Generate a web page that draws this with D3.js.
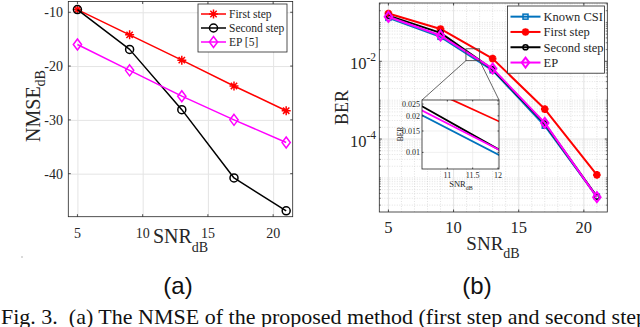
<!DOCTYPE html>
<html>
<head>
<meta charset="utf-8">
<script src="https://cdn.jsdelivr.net/npm/d3@7"></script>
<style>
body { margin: 0; background: #fff; }
text { font-family: "Liberation Serif", "Times New Roman", serif; fill: #262626; }
</style>
</head>
<body>
<svg id="fig" width="640" height="327"></svg>
<script>
// SNR points (dB)
const snr = [5, 9, 13, 17, 21];

// (a) NMSE in dB
const nmseFirst = [-9.5, -14.2, -18.9, -23.7, -28.3];
const nmseSecond = [-9.5, -16.9, -28.1, -40.8, -46.9];
const nmseEP = [-16.0, -20.8, -25.6, -30.0, -34.2];

// (b) BER
const berKnown = [0.131, 0.0426, 0.00586, 0.00022, 3.3e-6];
const berFirst = [0.17, 0.068, 0.0117, 5.9e-4, 1.2e-5];
const berSecond = [0.15, 0.054, 0.0062, 2.5e-4, 3.3e-6];
const berEP = [0.14, 0.046, 0.0065, 2.6e-4, 3.2e-6];

// tick values
const snrTicks = [5, 10, 15, 20];
const nmseTicks = [-40, -30, -20, -10];
const berTicks = [1e-4, 1e-2];
const insetXTicks = [11, 11.5, 12];
const insetYTicks = [0.01, 0.015, 0.02, 0.025];
// region marked on the BER plot: [x0, x1, y0, y1]
const zoomRegion = [10.95, 12, 0.0104, 0.021];

const svg = d3.select("#fig");
const axisColor = "#262626";

function marker(sel, type, r) {
    if (type === "circle") {
        sel.append("circle").attr("r", r);
    } else if (type === "diamond") {
        sel.append("path").attr("d", `M0,${-r}L${r * 0.75},0L0,${r}L${-r * 0.75},0Z`);
    } else if (type === "square") {
        sel.append("rect").attr("x", -r).attr("y", -r).attr("width", 2 * r).attr("height", 2 * r);
    } else if (type === "star") {
        var d = r * 0.707;
        sel.append("path").attr("d", `M${-r},0H${r}M0,${-r}V${r}M${-d},${-d}L${d},${d}M${-d},${d}L${d},${-d}`);
    }
}

function drawSeries(g, series, x, y, lw) {
    series.forEach(s => {
        var pts = snr.map((v, i) => [v, s.values[i]]);
        g.append("path")
            .attr("d", d3.line().x(d => x(d[0])).y(d => y(d[1]))(pts))
            .attr("fill", "none").attr("stroke", s.color).attr("stroke-width", lw)
            .attr("stroke-linejoin", "round");
        if (!s.marker) return;
        pts.forEach(p => {
            var m = g.append("g")
                .attr("transform", `translate(${x(p[0])},${y(p[1])})`)
                .attr("fill", s.fill || "none").attr("stroke", s.color).attr("stroke-width", s.mw || lw);
            marker(m, s.marker, s.r);
        });
    });
}

function drawLegend(g, series, x0, y0, w, rowH, lineW, fs, lw) {
    g.append("rect").attr("x", x0).attr("y", y0).attr("width", w).attr("height", rowH * series.length + 6)
        .attr("fill", "#fff").attr("stroke", axisColor).attr("stroke-width", 0.8);
    series.forEach((s, i) => {
        var cy = y0 + 3 + rowH * (i + 0.5);
        g.append("line").attr("x1", x0 + 3).attr("x2", x0 + 3 + lineW).attr("y1", cy).attr("y2", cy)
            .attr("stroke", s.color).attr("stroke-width", lw);
        var m = g.append("g").attr("transform", `translate(${x0 + 3 + lineW / 2},${cy})`)
            .attr("fill", s.fill || "none").attr("stroke", s.color).attr("stroke-width", s.mw || lw);
        marker(m, s.marker, s.r);
        g.append("text").attr("x", x0 + 6 + lineW).attr("y", cy).attr("dy", "0.35em")
            .attr("font-size", fs).text(s.name);
    });
}

function ticks(g, x, y, xt, yt, len) {
    var [x0, x1] = x.range(), [y0, y1] = y.range();
    xt.forEach(v => {
        g.append("line").attr("x1", x(v)).attr("x2", x(v)).attr("y1", y0).attr("y2", y0 - len);
        g.append("line").attr("x1", x(v)).attr("x2", x(v)).attr("y1", y1).attr("y2", y1 + len);
    });
    yt.forEach(v => {
        g.append("line").attr("y1", y(v)).attr("y2", y(v)).attr("x1", x0).attr("x2", x0 + len);
        g.append("line").attr("y1", y(v)).attr("y2", y(v)).attr("x1", x1).attr("x2", x1 - len);
    });
    g.attr("stroke", axisColor).attr("stroke-width", 0.8);
}

// ---------------- (a) NMSE ----------------
const xA = d3.scaleLinear().domain([4.3, 21.5]).range([68.3, 292.7]);
const yA = d3.scaleLinear().domain([-48, -8]).range([216.7, 1.5]);
const gA = svg.append("g");

gA.append("g").attr("transform", `translate(0,${yA.range()[0]})`)
    .call(d3.axisBottom(xA).tickValues(snrTicks).tickSize(-(yA.range()[0] - yA.range()[1])).tickFormat(""))
    .call(g => g.select(".domain").remove())
    .call(g => g.selectAll("line").attr("stroke", "#e4e4e4"));
gA.append("g").attr("transform", `translate(${xA.range()[0]},0)`)
    .call(d3.axisLeft(yA).tickValues(nmseTicks).tickSize(-(xA.range()[1] - xA.range()[0])).tickFormat(""))
    .call(g => g.select(".domain").remove())
    .call(g => g.selectAll("line").attr("stroke", "#e4e4e4"));

gA.append("rect").attr("x", xA.range()[0]).attr("y", yA.range()[1])
    .attr("width", xA.range()[1] - xA.range()[0]).attr("height", yA.range()[0] - yA.range()[1])
    .attr("fill", "none").attr("stroke", axisColor).attr("stroke-width", 0.8);
ticks(gA.append("g"), xA, yA, snrTicks, nmseTicks, 2.5);

gA.append("g").selectAll("text").data(snrTicks).join("text")
    .attr("x", d => xA(d)).attr("y", 238).attr("text-anchor", "middle").attr("font-size", 14).text(d => d);
gA.append("g").selectAll("text").data(nmseTicks).join("text")
    .attr("x", 63).attr("y", d => yA(d)).attr("dy", "0.35em").attr("text-anchor", "end")
    .attr("font-size", 14).text(d => String(d));

const seriesA = [
    {name: "First step", values: nmseFirst, color: "#ff0000", marker: "star", r: 4.5},
    {name: "Second step", values: nmseSecond, color: "#000000", marker: "circle", r: 4},
    {name: "EP [5]", values: nmseEP, color: "#ff00ff", marker: "diamond", r: 5.5}
];
drawSeries(gA.append("g"), seriesA, xA, yA, 1.5);
drawLegend(gA.append("g"), seriesA, 198, 4, 89, 14, 25, 11.5, 1.5);

var labA = gA.append("text").attr("transform", "translate(39.5,106) rotate(-90)")
    .attr("text-anchor", "middle").attr("font-size", 20);
labA.append("tspan").text("NMSE");
labA.append("tspan").attr("font-size", 14).attr("dy", 5).text("dB");
var xlabA = gA.append("text").attr("x", 180.5).attr("y", 243).attr("text-anchor", "middle").attr("font-size", 20);
xlabA.append("tspan").text("SNR");
xlabA.append("tspan").attr("font-size", 14).attr("dy", 9).text("dB");

// ---------------- (b) BER ----------------
const xB = d3.scaleLinear().domain([4.3, 21.8]).range([379.3, 607.3]);
const yB = d3.scaleLog().domain([1.33e-6, 0.316]).range([212, 3]);
const gB = svg.append("g");
const [bx0, bx1] = xB.range(), [by0, by1] = yB.range();

const minorY = yB.ticks().filter(v => v >= yB.domain()[0] && v <= yB.domain()[1] && !berTicks.some(t => Math.abs(t - v) / t < 1e-6));
const minorX = xB.ticks(20).filter(v => !snrTicks.includes(v));
const gridB = gB.append("g");
minorY.forEach(v => gridB.append("line").attr("x1", bx0).attr("x2", bx1).attr("y1", yB(v)).attr("y2", yB(v))
    .attr("stroke", "#cfcfcf").attr("stroke-width", 0.6).attr("stroke-dasharray", "1,1.5"));
minorX.forEach(v => gridB.append("line").attr("y1", by0).attr("y2", by1).attr("x1", xB(v)).attr("x2", xB(v))
    .attr("stroke", "#cfcfcf").attr("stroke-width", 0.6).attr("stroke-dasharray", "1,1.5"));
berTicks.forEach(v => gridB.append("line").attr("x1", bx0).attr("x2", bx1).attr("y1", yB(v)).attr("y2", yB(v))
    .attr("stroke", "#dcdcdc").attr("stroke-width", 0.8));
snrTicks.forEach(v => gridB.append("line").attr("y1", by0).attr("y2", by1).attr("x1", xB(v)).attr("x2", xB(v))
    .attr("stroke", "#dcdcdc").attr("stroke-width", 0.8));

gB.append("rect").attr("x", bx0).attr("y", by1).attr("width", bx1 - bx0).attr("height", by0 - by1)
    .attr("fill", "none").attr("stroke", axisColor).attr("stroke-width", 0.8);
ticks(gB.append("g"), xB, yB, snrTicks, berTicks, 2.5);
const mt = gB.append("g").attr("stroke", axisColor).attr("stroke-width", 0.6);
minorY.forEach(v => {
    mt.append("line").attr("x1", bx0).attr("x2", bx0 + 1.5).attr("y1", yB(v)).attr("y2", yB(v));
    mt.append("line").attr("x1", bx1).attr("x2", bx1 - 1.5).attr("y1", yB(v)).attr("y2", yB(v));
});

gB.append("g").selectAll("text").data(snrTicks).join("text")
    .attr("x", d => xB(d)).attr("y", 233).attr("text-anchor", "middle").attr("font-size", 16.5).text(d => d);
var yl = gB.append("g").selectAll("text").data(berTicks).join("text")
    .attr("x", 376).attr("y", d => yB(d) + 8).attr("text-anchor", "end").attr("font-size", 16.5);
yl.append("tspan").text("10");
yl.append("tspan").attr("font-size", 11.5).attr("dy", -8).text(d => String(Math.round(Math.log10(d))));

const seriesB = [
    {name: "Known CSI", values: berKnown, color: "#0072bd", marker: "square", r: 2.5, mw: 1.5},
    {name: "First step", values: berFirst, color: "#ff0000", marker: "star", r: 3.8, mw: 2.4},
    {name: "Second step", values: berSecond, color: "#000000", marker: "circle", r: 2.6, mw: 1.5},
    {name: "EP", values: berEP, color: "#ff00ff", marker: "diamond", r: 5, mw: 2}
];
drawSeries(gB.append("g"), seriesB, xB, yB, 2);

// zoom rectangle and connectors
const xI = d3.scaleLinear().domain([10.5, 12.02]).range([422, 499]);
const yI = d3.scaleLog().domain([0.0073, 0.027]).range([169, 100]);
const [ix0, ix1] = xI.range(), [iy0, iy1] = yI.range();
const zg = gB.append("g").attr("stroke", "#404040").attr("stroke-width", 0.8).attr("fill", "none");
zg.append("rect").attr("x", xB(zoomRegion[0])).attr("y", yB(zoomRegion[3]))
    .attr("width", xB(zoomRegion[1]) - xB(zoomRegion[0])).attr("height", yB(zoomRegion[2]) - yB(zoomRegion[3]));
zg.append("line").attr("x1", xB(zoomRegion[0])).attr("y1", yB(zoomRegion[2])).attr("x2", ix0).attr("y2", iy1);
zg.append("line").attr("x1", xB(zoomRegion[1])).attr("y1", yB(zoomRegion[2])).attr("x2", ix1).attr("y2", iy1);

drawLegend(gB.append("g"), seriesB, 507.5, 6, 97, 15.3, 30, 12.5, 2);

var labB = gB.append("text").attr("transform", "translate(348,107.5) rotate(-90)")
    .attr("text-anchor", "middle").attr("font-size", 18).text("BER");
var xlabB = gB.append("text").attr("x", 493).attr("y", 250).attr("text-anchor", "middle").attr("font-size", 19);
xlabB.append("tspan").text("SNR");
xlabB.append("tspan").attr("font-size", 14).attr("dy", 8).text("dB");

// ---------------- inset ----------------
const gI = svg.append("g");
gI.append("rect").attr("x", ix0).attr("y", iy1).attr("width", ix1 - ix0).attr("height", iy0 - iy1)
    .attr("fill", "#fff");
insetXTicks.forEach(v => gI.append("line").attr("x1", xI(v)).attr("x2", xI(v)).attr("y1", iy0).attr("y2", iy1)
    .attr("stroke", "#e6e6e6").attr("stroke-width", 0.6));
insetYTicks.forEach(v => gI.append("line").attr("y1", yI(v)).attr("y2", yI(v)).attr("x1", ix0).attr("x2", ix1)
    .attr("stroke", "#e6e6e6").attr("stroke-width", 0.6));
svg.append("clipPath").attr("id", "insetClip").append("rect")
    .attr("x", ix0).attr("y", iy1).attr("width", ix1 - ix0).attr("height", iy0 - iy1);
drawSeries(gI.append("g").attr("clip-path", "url(#insetClip)"),
    seriesB.map(s => ({name: s.name, values: s.values, color: s.color})), xI, yI, 1.8);
gI.append("rect").attr("x", ix0).attr("y", iy1).attr("width", ix1 - ix0).attr("height", iy0 - iy1)
    .attr("fill", "none").attr("stroke", axisColor).attr("stroke-width", 0.8);
ticks(gI.append("g"), xI, yI, insetXTicks, insetYTicks, 1.5);
gI.append("g").selectAll("text").data(insetXTicks).join("text")
    .attr("x", d => xI(d)).attr("y", 178).attr("text-anchor", "middle").attr("font-size", 8).text(d => d);
gI.append("g").selectAll("text").data(insetYTicks).join("text")
    .attr("x", 420).attr("y", d => yI(d)).attr("dy", "0.35em").attr("text-anchor", "end")
    .attr("font-size", 8).text(d => d);
gI.append("text").attr("transform", "translate(403,134) rotate(-90)").attr("text-anchor", "middle")
    .attr("font-size", 7.5).text("BER");
var xlabI = gI.append("text").attr("x", 461).attr("y", 187).attr("text-anchor", "middle").attr("font-size", 8.5);
xlabI.append("tspan").text("SNR");
xlabI.append("tspan").attr("font-size", 6).attr("dy", 3).text("dB");

// ---------------- panel letters and caption ----------------
svg.append("text").attr("x", 178).attr("y", 294).attr("text-anchor", "middle")
    .style("font-family", "'Liberation Sans', Arial, sans-serif").style("fill", "#111").attr("font-size", 24).text("(a)");
svg.append("text").attr("x", 477).attr("y", 294).attr("text-anchor", "middle")
    .style("font-family", "'Liberation Sans', Arial, sans-serif").style("fill", "#111").attr("font-size", 24).text("(b)");
svg.append("circle").attr("cx", 22).attr("cy", 257).attr("r", 0.7).attr("fill", "#999");
// the caption runs past the right edge, as in the source figure
svg.append("text").attr("x", 1).attr("y", 324).attr("font-size", 22).style("fill", "#111")
    .attr("xml:space", "preserve")
    .text("Fig. 3.  (a) The NMSE of the proposed method (first step and second step)");
</script>
</body>
</html>
